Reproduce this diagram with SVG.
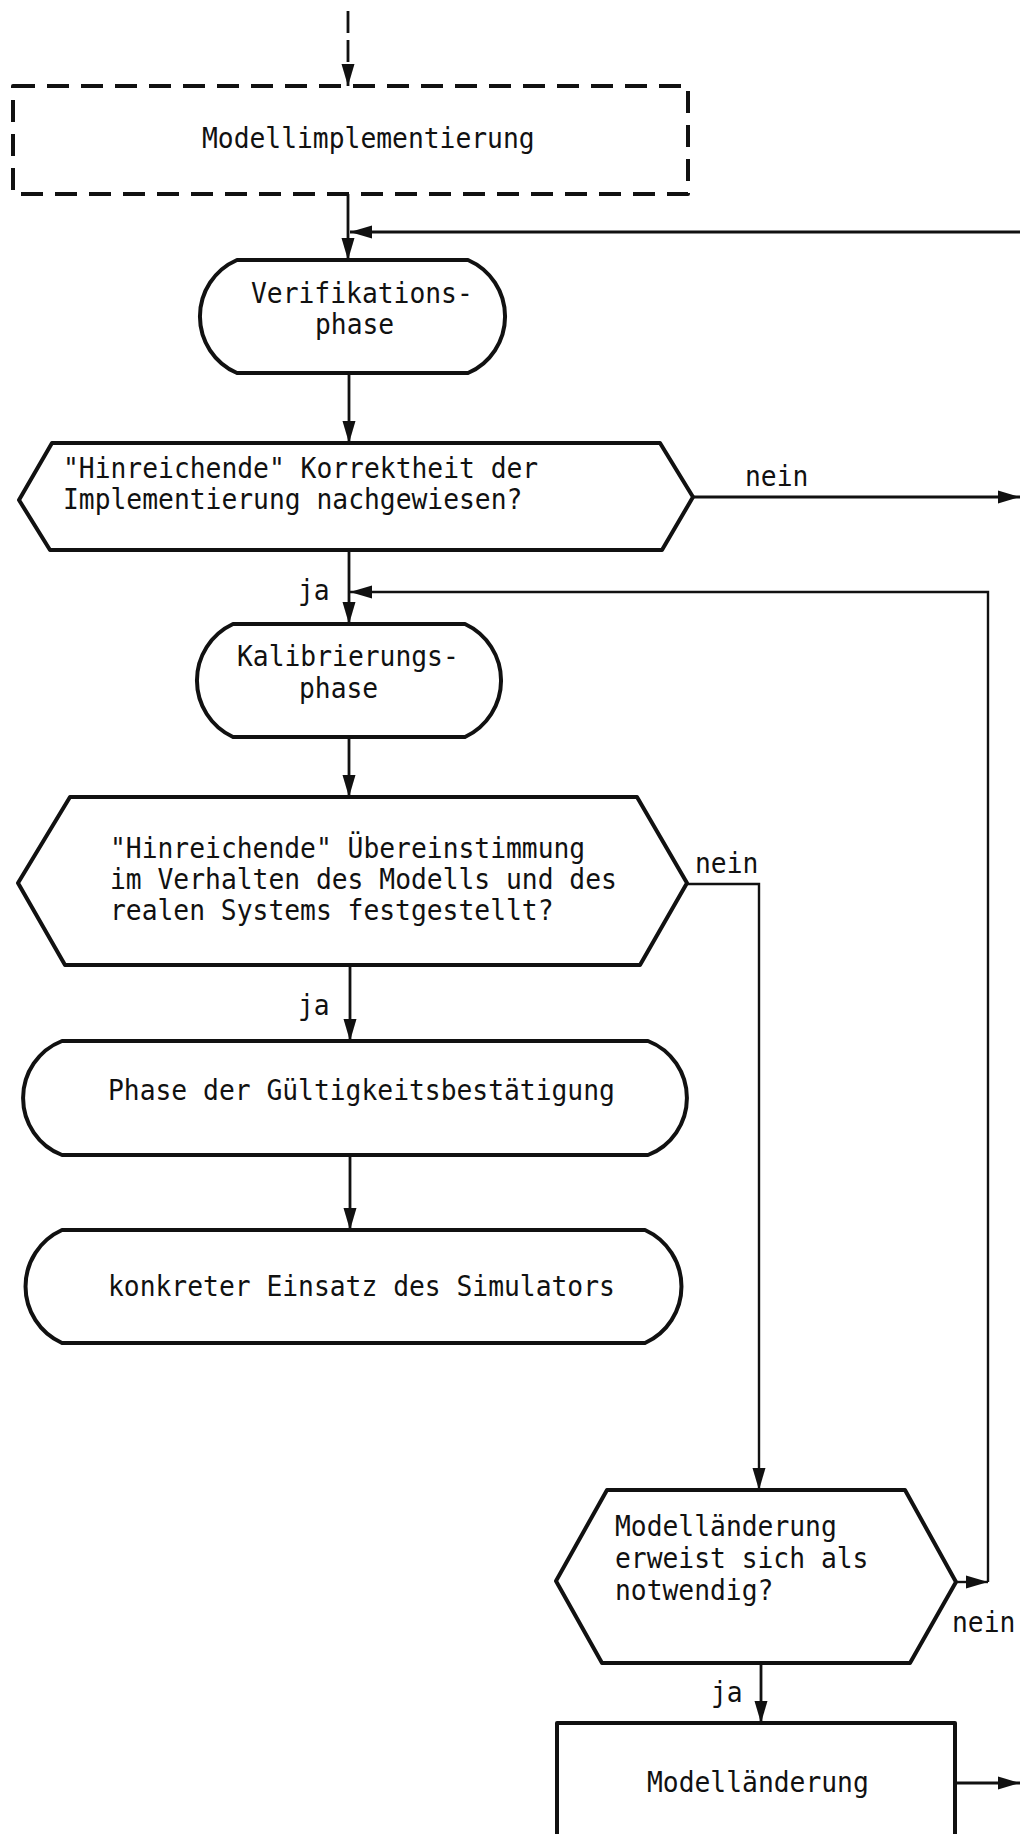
<svg xmlns="http://www.w3.org/2000/svg" width="1020" height="1834" viewBox="0 0 1020 1834">
  <style>
    .node { fill: #fff; stroke: #111; stroke-width: 4; stroke-linejoin: round; }
    .dashed { stroke-dasharray: 22 12; }
    .edge { fill: none; stroke: #111; stroke-width: 2.8; }
    .thin { stroke-width: 2.4; }
    text { font-family: "DejaVu Sans Mono", "Liberation Mono", monospace; font-size: 27.5px; fill: #111; }
  </style>
  <defs>
    <marker id="arrow" markerUnits="userSpaceOnUse" markerWidth="23" markerHeight="14" refX="22" refY="7" orient="auto">
      <path d="M0,0.5 L22,7 L0,13.5 z" fill="#111"/>
    </marker>
  </defs>

  <rect width="1020" height="1834" fill="#fff"/>

  <!-- connectors and their branch labels -->
  <g id="connectors">
    <path class="edge" d="M348,11 V86" stroke-dasharray="22 7" marker-end="url(#arrow)"/>
    <path class="edge" d="M348,194 V260" marker-end="url(#arrow)"/>
    <path class="edge" d="M1020,232 H350" marker-end="url(#arrow)"/>
    <path class="edge" d="M349,373 V443" marker-end="url(#arrow)"/>
    <path class="edge" d="M693,497 H1020" marker-end="url(#arrow)"/>
    <path class="edge" d="M349,550 V624" marker-end="url(#arrow)"/>
    <path class="edge thin" d="M956,1582 H988" marker-end="url(#arrow)"/>
    <path class="edge thin" d="M988,1582 V592 H350" marker-end="url(#arrow)"/>
    <path class="edge" d="M349,737 V797" marker-end="url(#arrow)"/>
    <path class="edge thin" d="M687,884 H759 V1490" marker-end="url(#arrow)"/>
    <path class="edge" d="M350,965 V1041" marker-end="url(#arrow)"/>
    <path class="edge" d="M350,1155 V1230" marker-end="url(#arrow)"/>
    <path class="edge" d="M761,1663 V1723" marker-end="url(#arrow)"/>
    <path class="edge" d="M955,1783 H1020" marker-end="url(#arrow)"/>

    <text x="745" y="486" textLength="63.4" lengthAdjust="spacingAndGlyphs">nein</text>
    <text x="298" y="600" textLength="31.7" lengthAdjust="spacingAndGlyphs">ja</text>
    <text x="695" y="873" textLength="63.4" lengthAdjust="spacingAndGlyphs">nein</text>
    <text x="298" y="1015" textLength="31.7" lengthAdjust="spacingAndGlyphs">ja</text>
    <text x="952" y="1632" textLength="63.4" lengthAdjust="spacingAndGlyphs">nein</text>
    <text x="711" y="1702" textLength="31.7" lengthAdjust="spacingAndGlyphs">ja</text>
  </g>

  <g id="n-modellimplementierung">
    <rect class="node dashed" x="13" y="86" width="675" height="108"/>
    <text x="202" y="148" textLength="332.6" lengthAdjust="spacingAndGlyphs">Modellimplementierung</text>
  </g>

  <g id="n-verifikationsphase">
    <path class="node" d="M237,260 H468 A61.6,61.6 0 0 1 468,373 H237 A61.6,61.6 0 0 1 237,260 Z"/>
    <text x="251" y="303" textLength="221.8" lengthAdjust="spacingAndGlyphs">Verifikations-</text>
    <text x="315" y="334" textLength="79.2" lengthAdjust="spacingAndGlyphs">phase</text>
  </g>

  <g id="d-korrektheit">
    <path class="node" d="M52,443 H660 L693,497 L662,550 H50 L19,500 Z"/>
    <text x="63" y="478" textLength="475.2" lengthAdjust="spacingAndGlyphs">"Hinreichende" Korrektheit der</text>
    <text x="63" y="509" textLength="459.4" lengthAdjust="spacingAndGlyphs">Implementierung nachgewiesen?</text>
  </g>

  <g id="n-kalibrierungsphase">
    <path class="node" d="M233,624 H465 A62.3,62.3 0 0 1 465,737 H233 A62.3,62.3 0 0 1 233,624 Z"/>
    <text x="237" y="666" textLength="221.8" lengthAdjust="spacingAndGlyphs">Kalibrierungs-</text>
    <text x="299" y="698" textLength="79.2" lengthAdjust="spacingAndGlyphs">phase</text>
  </g>

  <g id="d-uebereinstimmung">
    <path class="node" d="M70,797 H637 L687,883 L640,965 H65 L18,883 Z"/>
    <text x="110" y="858" textLength="475.2" lengthAdjust="spacingAndGlyphs">"Hinreichende" Übereinstimmung</text>
    <text x="110" y="889" textLength="506.9" lengthAdjust="spacingAndGlyphs">im Verhalten des Modells und des</text>
    <text x="110" y="920" textLength="443.5" lengthAdjust="spacingAndGlyphs">realen Systems festgestellt?</text>
  </g>

  <g id="n-gueltigkeitsbestaetigung">
    <path class="node" d="M62,1041 H648 A61.2,61.2 0 0 1 648,1155 H62 A61.2,61.2 0 0 1 62,1041 Z"/>
    <text x="108" y="1100" textLength="506.9" lengthAdjust="spacingAndGlyphs">Phase der Gültigkeitsbestätigung</text>
  </g>

  <g id="n-einsatz">
    <path class="node" d="M62,1230 H645 A62,62 0 0 1 645,1343 H62 A62,62 0 0 1 62,1230 Z"/>
    <text x="108" y="1296" textLength="506.9" lengthAdjust="spacingAndGlyphs">konkreter Einsatz des Simulators</text>
  </g>

  <g id="d-modellaenderung-noetig">
    <path class="node" d="M607,1490 H905 L956,1582 L910,1663 H602 L556,1581 Z"/>
    <text x="615" y="1536" textLength="221.8" lengthAdjust="spacingAndGlyphs">Modelländerung</text>
    <text x="615" y="1568" textLength="253.4" lengthAdjust="spacingAndGlyphs">erweist sich als</text>
    <text x="615" y="1600" textLength="158.4" lengthAdjust="spacingAndGlyphs">notwendig?</text>
  </g>

  <g id="n-modellaenderung">
    <path class="node" d="M557,1840 V1723 H955 V1840"/>
    <text x="647" y="1792" textLength="221.8" lengthAdjust="spacingAndGlyphs">Modelländerung</text>
  </g>
</svg>
